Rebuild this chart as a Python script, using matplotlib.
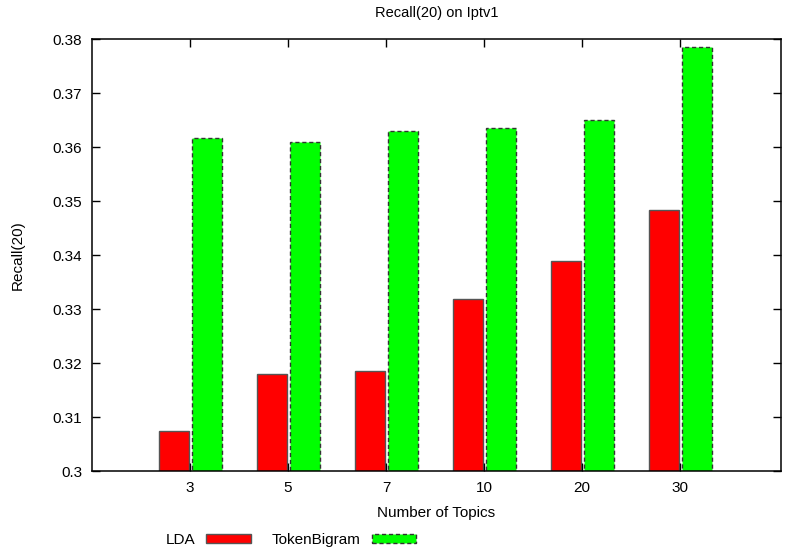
import matplotlib
matplotlib.use("Agg")
import matplotlib.pyplot as plt
import numpy as np
from matplotlib.patches import Patch

# Recall(20) per number of topics
topics = ["3", "5", "7", "10", "20", "30"]
lda = [0.3075, 0.3179, 0.3186, 0.3318, 0.3389, 0.3484]
token_bigram = [0.3617, 0.3610, 0.3630, 0.3636, 0.3650, 0.3786]

plt.rcParams["font.family"] = ["Liberation Sans", "DejaVu Sans"]

fig = plt.figure(figsize=(7.85, 5.54), dpi=100)
ax = fig.add_axes([0.1172, 0.1498, 0.8777, 0.7798])

x = np.arange(1, len(topics) + 1)
w = 0.31
ax.bar(x - 0.165, lda, width=w, bottom=0, color="#ff0000",
       edgecolor="#555555", linewidth=1.0)
ax.bar(x + 0.175, token_bigram, width=w, bottom=0, color="#00ff00",
       edgecolor="#333333", linewidth=1.0, linestyle=(0, (3, 2)))

ax.set_xlim(0, 7.03)
ax.set_ylim(0.30, 0.38)
ax.set_xticks(x)
ax.set_xticklabels(topics)
ax.set_yticks(np.arange(0.30, 0.3801, 0.01))
ax.set_yticklabels(["0.3", "0.31", "0.32", "0.33", "0.34", "0.35", "0.36", "0.37", "0.38"])
ax.tick_params(direction="in", length=6, width=1, top=True, right=True,
               labelsize=11, pad=7)
for s in ax.spines.values():
    s.set_linewidth(1.1)

ax.set_title("Recall(20) on Iptv1", fontsize=10.5, pad=16)
ax.set_xlabel("Number of Topics", fontsize=11, labelpad=8)
ax.set_ylabel("Recall(20)", fontsize=11, labelpad=20)

handles = [
    Patch(facecolor="#ff0000", edgecolor="#555555", linewidth=1.0, label="LDA"),
    Patch(facecolor="#00ff00", edgecolor="#333333", linewidth=1.0,
          linestyle=(0, (3, 2)), label="TokenBigram"),
]
fig.legend(handles=handles, loc="lower left", bbox_to_anchor=(0.193, -0.012),
           ncol=2, frameon=False, markerfirst=False, fontsize=11,
           handlelength=2.9, handleheight=0.5, columnspacing=1.35,
           handletextpad=0.75)

plt.savefig("out.png", dpi=100)
plt.close()
